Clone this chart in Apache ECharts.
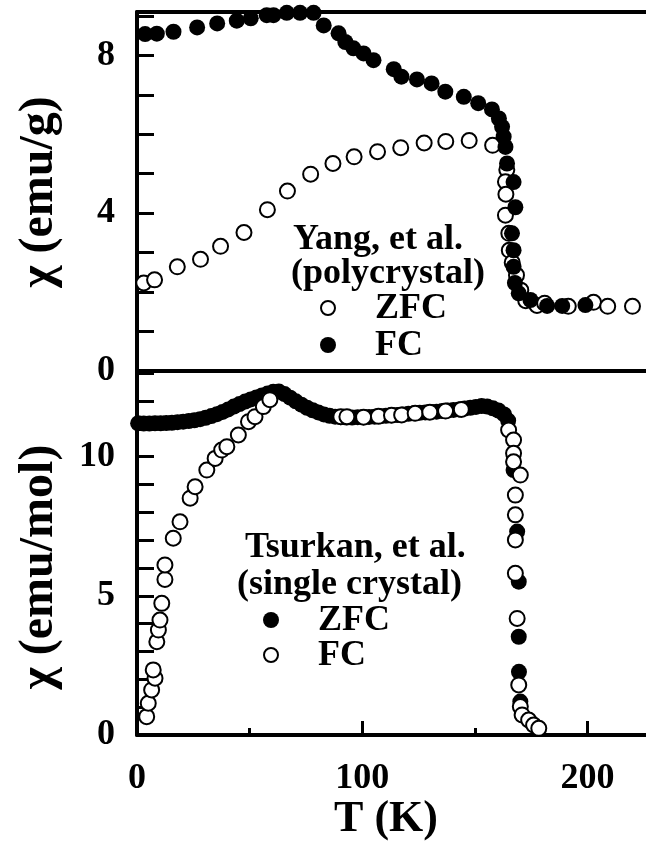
<!DOCTYPE html>
<html>
<head>
<meta charset="utf-8">
<script src="https://cdn.jsdelivr.net/npm/echarts@6/dist/echarts.min.js"></script>
<style>
  html, body { margin: 0; padding: 0; background: #fff; }
  #chart { width: 646px; height: 848px; }
</style>
</head>
<body>
<div id="chart"></div>
<script>
// Susceptibility chi(T): polycrystal (top, emu/g) and single crystal (bottom, emu/mol)

// Top panel, Yang et al. (polycrystal) — [T (K), chi (emu/g)]
const yangZFC = [
  [3.0, 2.23], [7.8, 2.31], [17.9, 2.64], [28.2, 2.83], [37.1, 3.16], [47.5, 3.51],
  [57.9, 4.09], [66.8, 4.56], [77.1, 4.99], [87.0, 5.26], [96.4, 5.43], [106.8, 5.56],
  [117.1, 5.66], [127.5, 5.78], [137.1, 5.82], [147.5, 5.84], [157.9, 5.72], [164.2, 5.10],
  [163.6, 4.80], [163.8, 4.48], [163.6, 3.95], [165.1, 3.49], [165.3, 3.06], [166.6, 2.75],
  [168.5, 2.43], [170.4, 2.05], [172.6, 1.78], [177.6, 1.66], [181.0, 1.72], [191.5, 1.64],
  [202.7, 1.74], [209.0, 1.64], [220.0, 1.64]
];
const yangFC = [
  [3.6, 8.54], [8.8, 8.55], [16.2, 8.60], [26.7, 8.71], [35.6, 8.81], [44.3, 8.88],
  [50.5, 8.94], [57.6, 9.02], [60.6, 9.02], [66.5, 9.08], [72.4, 9.08], [78.4, 9.08],
  [82.9, 8.76], [89.5, 8.56], [92.5, 8.34], [96.1, 8.18], [100.6, 8.05], [105.0, 7.88],
  [114.0, 7.65], [117.4, 7.46], [124.3, 7.39], [130.8, 7.29], [136.9, 7.08], [145.1, 6.95],
  [151.5, 6.79], [157.6, 6.63], [160.7, 6.40], [162.1, 6.19], [162.8, 5.94], [163.6, 5.68],
  [164.3, 5.26], [167.2, 4.79], [168.0, 4.15], [166.5, 3.49], [167.2, 3.06], [167.2, 2.64],
  [167.8, 2.23], [169.5, 1.97], [174.7, 1.80], [182.1, 1.65], [188.8, 1.65], [199.1, 1.67]
];

// Bottom panel, Tsurkan et al. (single crystal) — [T (K), chi (emu/mol)]
const tsurkanZFC = [
  [0.5, 11.20], [3, 11.19], [5.5, 11.19], [8, 11.20], [10.5, 11.20], [13, 11.21],
  [15.5, 11.22], [18, 11.24], [20.5, 11.26], [23, 11.28], [25.5, 11.31], [28, 11.35],
  [30.5, 11.40], [33, 11.46], [35.5, 11.53], [38, 11.61], [40.5, 11.70], [43, 11.80],
  [45.5, 11.89], [48, 11.98], [50.5, 12.06], [53, 12.13], [55.5, 12.20], [58, 12.27],
  [60.5, 12.33], [63, 12.34], [65.5, 12.25], [68, 12.12], [70.5, 11.99], [73, 11.87],
  [75.5, 11.76], [78, 11.67], [80.5, 11.59], [83, 11.52], [85.5, 11.47], [88, 11.44],
  [90.5, 11.42], [93, 11.41], [95.5, 11.41], [98, 11.42], [100.5, 11.42], [103, 11.43],
  [105.5, 11.44], [108, 11.45], [110.5, 11.47], [113, 11.49], [115.5, 11.50], [118, 11.52],
  [120.5, 11.54], [123, 11.56], [125.5, 11.58], [128, 11.59], [130.5, 11.61], [133, 11.62],
  [135.5, 11.64], [138, 11.66], [140.5, 11.68], [143, 11.70], [145.5, 11.73], [148, 11.76],
  [150.5, 11.79], [153, 11.82], [155.5, 11.80], [158, 11.74], [160.5, 11.66], [163, 11.52],
  [164.8, 11.30], [167.2, 9.52], [168.8, 7.31], [169.5, 5.51], [169.5, 3.53], [169.6, 2.27],
  [170.2, 1.20]
];
const tsurkanFC = [
  [4.3, 0.66], [5.0, 1.14], [6.5, 1.62], [8.0, 2.04], [7.2, 2.34], [8.8, 3.35],
  [9.5, 3.77], [10.2, 4.13], [11.0, 4.73], [12.4, 5.59], [12.4, 6.11], [16.1, 7.07],
  [19.1, 7.66], [23.6, 8.51], [25.8, 8.92], [31.0, 9.52], [34.7, 9.94], [37.6, 10.24],
  [39.9, 10.36], [45.0, 10.78], [49.5, 11.26], [52.4, 11.44], [56.1, 11.80], [59.0, 12.05],
  [90.5, 11.44], [93.2, 11.44], [100.6, 11.42], [107.2, 11.45], [113.0, 11.49], [117.5, 11.50],
  [123.5, 11.56], [130.0, 11.60], [137.0, 11.64], [144.0, 11.70],
  [165.0, 10.96], [167.2, 10.60], [167.2, 10.12], [167.2, 9.82], [170.2, 9.34], [168.0, 8.62],
  [168.0, 7.91], [168.0, 7.01], [168.0, 5.81], [168.8, 4.19], [169.5, 1.80], [170.2, 1.02],
  [171.0, 0.72], [173.9, 0.54], [176.1, 0.36], [178.4, 0.24]
];

// Axis ranges and labelled ticks
const T_MAX = 230;
const TOP_MAX = 9.1;
const BOTTOM_MAX = 13.08;
const xTickLabels = [0, 100, 200];
const topTickLabels = [0, 4, 8];
const bottomTickLabels = [0, 5, 10];

const FONT_FAMILY = '"Liberation Serif", "Times New Roman", serif';
const font = size => 'bold ' + size + 'px ' + FONT_FAMILY;

const labelStyle = {
  fontFamily: FONT_FAMILY, fontWeight: 'bold', fontSize: 36, color: '#000'
};
const pick = list => v => (list.some(t => Math.abs(t - v) < 1e-6) ? String(v) : '');

const openStyle = { color: '#fff', borderColor: '#000', borderWidth: 2, opacity: 1 };
const filledStyle = { color: '#000', borderColor: '#000', borderWidth: 0, opacity: 1 };
const frameLine = { show: true, lineStyle: { color: '#000', width: 4 } };
const noTicks = { show: false };

const chart = echarts.init(document.getElementById('chart'), null, { renderer: 'canvas' });

chart.setOption({
  animation: false,
  backgroundColor: '#fff',
  grid: [
    { left: 137, top: 12, width: 518, height: 359, show: false, outerBoundsMode: 'none', containLabel: false },
    { left: 137, top: 371, width: 518, height: 364, show: false, outerBoundsMode: 'none', containLabel: false }
  ],
  xAxis: [
    {
      // frame line along the bottom of the upper panel
      gridIndex: 0, type: 'value', min: 0, max: T_MAX, position: 'bottom',
      axisLine: frameLine, axisTick: noTicks,
      axisLabel: { show: false }, splitLine: { show: false }
    },
    {
      // frame line along the top of the upper panel
      gridIndex: 0, type: 'value', min: 0, max: T_MAX, position: 'top',
      axisLine: frameLine, axisTick: noTicks,
      axisLabel: { show: false }, splitLine: { show: false }
    },
    {
      gridIndex: 1, type: 'value', min: 0, max: T_MAX, interval: 100, position: 'bottom',
      axisLine: frameLine,
      axisTick: { show: true, inside: true, length: 14, lineStyle: { color: '#000', width: 3 } },
      axisLabel: Object.assign({ margin: 26, formatter: pick(xTickLabels) }, labelStyle),
      splitLine: { show: false }
    },
    {
      // minor ticks every 50 K
      gridIndex: 1, type: 'value', min: 0, max: T_MAX, interval: 50, position: 'bottom',
      axisLine: { show: false },
      axisTick: { show: true, inside: true, length: 7, lineStyle: { color: '#000', width: 3 } },
      axisLabel: { show: false }, splitLine: { show: false }
    }
  ],
  yAxis: [
    {
      gridIndex: 0, type: 'value', min: 0, max: TOP_MAX, interval: 1,
      axisLine: frameLine,
      axisTick: { show: true, inside: true, length: 17, lineStyle: { color: '#000', width: 3 } },
      axisLabel: Object.assign({ margin: 22, formatter: pick(topTickLabels) }, labelStyle),
      splitLine: { show: false }
    },
    {
      gridIndex: 1, type: 'value', min: 0, max: BOTTOM_MAX, interval: 1,
      axisLine: frameLine,
      axisTick: { show: true, inside: true, length: 17, lineStyle: { color: '#000', width: 3 } },
      axisLabel: Object.assign({ margin: 22, formatter: pick(bottomTickLabels) }, labelStyle),
      splitLine: { show: false }
    }
  ],
  series: [
    {
      name: 'ZFC (Yang)', type: 'scatter', xAxisIndex: 0, yAxisIndex: 0,
      data: yangZFC, symbol: 'circle', symbolSize: 15, itemStyle: openStyle, z: 2, clip: false
    },
    {
      name: 'FC (Yang)', type: 'scatter', xAxisIndex: 0, yAxisIndex: 0,
      data: yangFC, symbol: 'circle', symbolSize: 16, itemStyle: filledStyle, z: 3, clip: false
    },
    {
      name: 'ZFC (Tsurkan)', type: 'scatter', xAxisIndex: 2, yAxisIndex: 1,
      data: tsurkanZFC, symbol: 'circle', symbolSize: 16, itemStyle: filledStyle, z: 2, clip: false
    },
    {
      name: 'FC (Tsurkan)', type: 'scatter', xAxisIndex: 2, yAxisIndex: 1,
      data: tsurkanFC, symbol: 'circle', symbolSize: 15, itemStyle: openStyle, z: 3, clip: false
    }
  ],
  graphic: [
    // axis titles
    { type: 'text', x: 40, y: 192, rotation: Math.PI / 2,
      style: { text: 'χ (emu/g)', font: font(48), fill: '#000', align: 'center', verticalAlign: 'middle' } },
    { type: 'text', x: 40, y: 567, rotation: Math.PI / 2,
      style: { text: 'χ (emu/mol)', font: font(48), fill: '#000', align: 'center', verticalAlign: 'middle' } },
    { type: 'text', x: 386, y: 820,
      style: { text: 'T (K)', font: font(44), fill: '#000', align: 'center', verticalAlign: 'middle' } },

    // top panel key
    { type: 'text', x: 293, y: 240,
      style: { text: 'Yang, et al.', font: font(36), fill: '#000', align: 'left', verticalAlign: 'middle' } },
    { type: 'text', x: 291, y: 274,
      style: { text: '(polycrystal)', font: font(36), fill: '#000', align: 'left', verticalAlign: 'middle' } },
    { type: 'circle', shape: { cx: 328, cy: 308, r: 7 },
      style: { fill: '#fff', stroke: '#000', lineWidth: 2 } },
    { type: 'text', x: 375, y: 309,
      style: { text: 'ZFC', font: font(36), fill: '#000', align: 'left', verticalAlign: 'middle' } },
    { type: 'circle', shape: { cx: 328, cy: 345, r: 8 },
      style: { fill: '#000' } },
    { type: 'text', x: 375, y: 346,
      style: { text: 'FC', font: font(36), fill: '#000', align: 'left', verticalAlign: 'middle' } },

    // bottom panel key
    { type: 'text', x: 245, y: 548,
      style: { text: 'Tsurkan, et al.', font: font(36), fill: '#000', align: 'left', verticalAlign: 'middle' } },
    { type: 'text', x: 237, y: 585,
      style: { text: '(single crystal)', font: font(36), fill: '#000', align: 'left', verticalAlign: 'middle' } },
    { type: 'circle', shape: { cx: 271, cy: 620, r: 8 },
      style: { fill: '#000' } },
    { type: 'text', x: 318, y: 621,
      style: { text: 'ZFC', font: font(36), fill: '#000', align: 'left', verticalAlign: 'middle' } },
    { type: 'circle', shape: { cx: 271, cy: 655, r: 7 },
      style: { fill: '#fff', stroke: '#000', lineWidth: 2 } },
    { type: 'text', x: 318, y: 656,
      style: { text: 'FC', font: font(36), fill: '#000', align: 'left', verticalAlign: 'middle' } }
  ]
});
</script>
</body>
</html>
